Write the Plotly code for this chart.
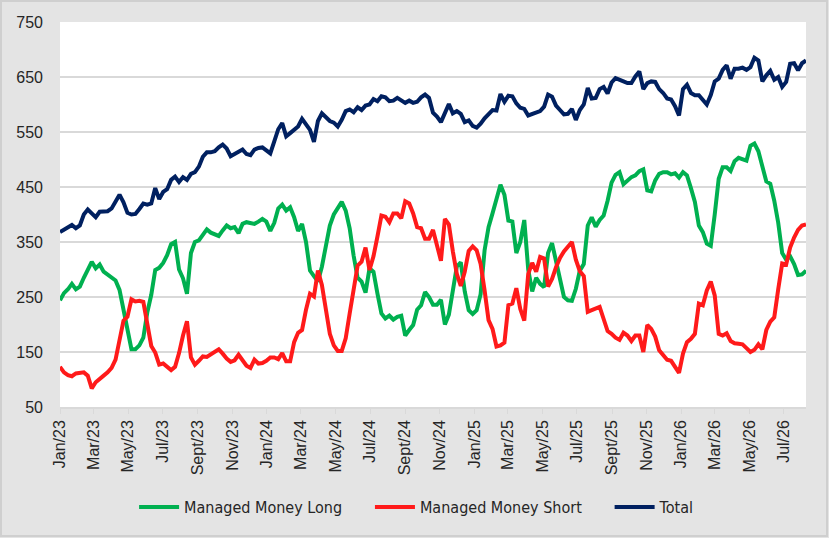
import pandas as pd
import plotly.graph_objects as go

# weekly positioning, Jan 2023 - Aug 2026
dates = pd.date_range("2023-01-01", periods=189, freq="7D")

total = [368, 373, 376, 381, 375, 380, 400, 409, 402, 395, 405, 406, 406, 411, 422, 436, 422, 403, 400, 401,
         410, 420, 418, 420, 448, 428, 441, 446, 463, 469, 459, 468, 463, 474, 477, 487, 505, 513, 513, 515,
         522, 527, 520, 506, 510, 515, 518, 510,
         508, 518, 521, 522, 517, 511, 533, 555, 566, 542, 548, 553, 560, 574, 563, 554, 532, 570, 584, 577,
         570, 567, 560, 572, 588, 591, 586, 595, 590, 598, 600, 610, 606, 615, 613, 606, 607, 612, 608, 603,
         607, 603, 605, 613, 618, 612, 585,
         578, 568, 587, 601, 584, 588, 583, 568, 571, 561, 558, 565, 575, 583, 590, 589, 619, 605, 616, 615,
         602, 594, 592, 580, 583, 586, 588, 596, 618, 614, 598, 590, 582, 583, 592, 572, 590, 600, 630, 611,
         612, 628, 632, 620, 640, 648, 644,
         642, 639, 639, 651, 660, 628, 639, 642, 641, 628, 621, 611, 609, 597, 580, 628, 636, 621, 617, 617,
         608, 600, 617, 642, 647, 663, 671, 647, 665, 665, 667, 663, 668, 685, 680, 642, 653, 661, 645, 650,
         632, 641, 674, 675, 662, 675, 680]

mm_long = [244, 257, 264, 274, 264, 269, 285, 300, 314, 302, 309, 296, 290, 286, 280, 263, 226, 190, 155, 155,
           162, 176, 222, 254, 299, 303, 312, 326, 346, 350, 300, 284, 256, 330, 350, 353, 364, 373, 367, 364,
           361, 371, 380, 375, 377, 366, 383, 386,
           385, 383, 387, 392, 387, 370, 385, 411, 418, 407, 413, 395, 370, 383, 350, 298, 288, 278, 305, 345,
           380, 400, 413, 423, 407, 375, 325, 285, 278, 258, 302, 296, 256, 220, 211, 216, 209, 214, 216, 180,
           190, 199, 227, 235, 259, 250, 236,
           236, 245, 200, 218, 262, 305, 313, 260, 226, 219, 226, 255, 335, 377, 402, 425, 454, 436, 389, 387,
           330, 350, 390, 300, 260, 285, 274, 268, 330, 348, 315, 278, 250, 244, 243, 265, 298, 310, 380, 395,
           378, 390, 398, 425, 458, 472, 477,
           455, 461, 468, 471, 479, 482, 444, 442, 462, 474, 477, 477, 473, 475, 467, 477, 471, 448, 423, 380,
           368, 347, 343, 400, 465, 486, 486, 479, 497, 503, 501, 498, 525, 529, 515, 485, 460, 456, 425, 385,
           330, 318, 324, 310, 290, 291, 298]

mm_short = [123, 113, 108, 106, 111, 112, 113, 107, 84, 95, 100, 107, 113, 121, 136, 168, 207, 214, 246, 242,
            243, 241, 197, 161, 149, 127, 129, 122, 117, 123, 148, 180, 206, 140, 127, 134, 142, 141, 146, 149,
            155, 147, 138, 132, 135, 145, 134, 125,
            121, 136, 129, 130, 134, 140, 140, 137, 148, 133, 133, 168, 185, 190, 227, 256, 251, 298, 272, 228,
            183, 162, 152, 152, 175, 220, 268, 307, 314, 340, 299, 324, 360, 398, 396, 386, 402, 402, 393, 424,
            420, 402, 377, 375, 356, 356, 372,
            341, 316, 392, 382, 333, 292, 270, 296, 334, 342, 335, 310, 262, 208, 192, 160, 162, 167, 235, 238,
            266, 228, 207, 292, 312, 296, 323, 320, 269, 283, 304, 321, 333, 341, 350, 318, 297, 288, 223, 226,
            230, 232, 210, 188, 183, 176, 172,
            185, 180, 170, 180, 180, 150, 199, 192, 178, 153, 145, 136, 134, 124, 112, 147, 168, 174, 183, 238,
            235, 262, 278, 253, 183, 180, 184, 170, 166, 165, 164, 157, 150, 154, 164, 155, 190, 205, 213, 264,
            311, 309, 340, 358, 372, 380, 382]

tick_dates = ["2023-01-01", "2023-03-01", "2023-05-01", "2023-07-01", "2023-09-01", "2023-11-01",
              "2024-01-01", "2024-03-01", "2024-05-01", "2024-07-01", "2024-09-01", "2024-11-01",
              "2025-01-01", "2025-03-01", "2025-05-01", "2025-07-01", "2025-09-01", "2025-11-01",
              "2026-01-01", "2026-03-01", "2026-05-01", "2026-07-01"]
tick_text = ["Jan/23", "Mar/23", "May/23", "Jul/23", "Sept/23", "Nov/23",
             "Jan/24", "Mar/24", "May/24", "Jul/24", "Sept/24", "Nov/24",
             "Jan/25", "Mar/25", "May/25", "Jul/25", "Sept/25", "Nov/25",
             "Jan/26", "Mar/26", "May/26", "Jul/26"]

pad = "\u00a0" * 5  # extra room between legend entries

fig = go.Figure()
fig.add_trace(go.Scatter(x=dates, y=mm_long, mode="lines", name="Managed Money Long" + pad,
                         line=dict(color="#00b050", width=4)))
fig.add_trace(go.Scatter(x=dates, y=mm_short, mode="lines", name="Managed Money Short" + pad,
                         line=dict(color="#ff1a1a", width=4)))
fig.add_trace(go.Scatter(x=dates, y=total, mode="lines", name="Total",
                         line=dict(color="#002060", width=4)))

fig.update_layout(
    width=829, height=538,
    margin=dict(l=60, r=23, t=22, b=131),
    paper_bgcolor="#e4e4e4",
    plot_bgcolor="white",
    font=dict(family="Liberation Sans, Arial, sans-serif", color="#262626"),
    showlegend=True,
    legend=dict(orientation="h", x=0.478, xanchor="center", y=-0.26, yanchor="middle",
                bgcolor="rgba(0,0,0,0)",
                font=dict(family="Liberation Sans Narrow, DejaVu Sans Condensed, Arial Narrow, sans-serif",
                          size=16, color="#262626"),
                itemwidth=40, tracegroupgap=0),
    shapes=[dict(type="rect", xref="paper", yref="paper", x0=-59 / 746, x1=1 + 21 / 746,
                 y0=-129 / 385, y1=1 + 21 / 385, line=dict(color="#cfcfcf", width=2), layer="below")],
)
fig.update_xaxes(
    type="date", range=["2023-01-01", "2026-08-09"],
    tickvals=tick_dates, ticktext=tick_text, tickangle=-90,
    tickfont=dict(size=16), showgrid=False,
    showline=True, linecolor="#d9d9d9", linewidth=1.5,
    ticks="outside", ticklen=5, tickcolor="#d9d9d9",
)
fig.update_yaxes(
    range=[50, 750], dtick=100, tick0=50, tickfont=dict(size=16),
    showgrid=True, gridcolor="#d9d9d9", gridwidth=1.5, zeroline=False,
    ticks="", ticklabelstandoff=16,
)

fig.write_html("out.html", config={"displayModeBar": False},
               post_script="document.body.style.margin='0';")
